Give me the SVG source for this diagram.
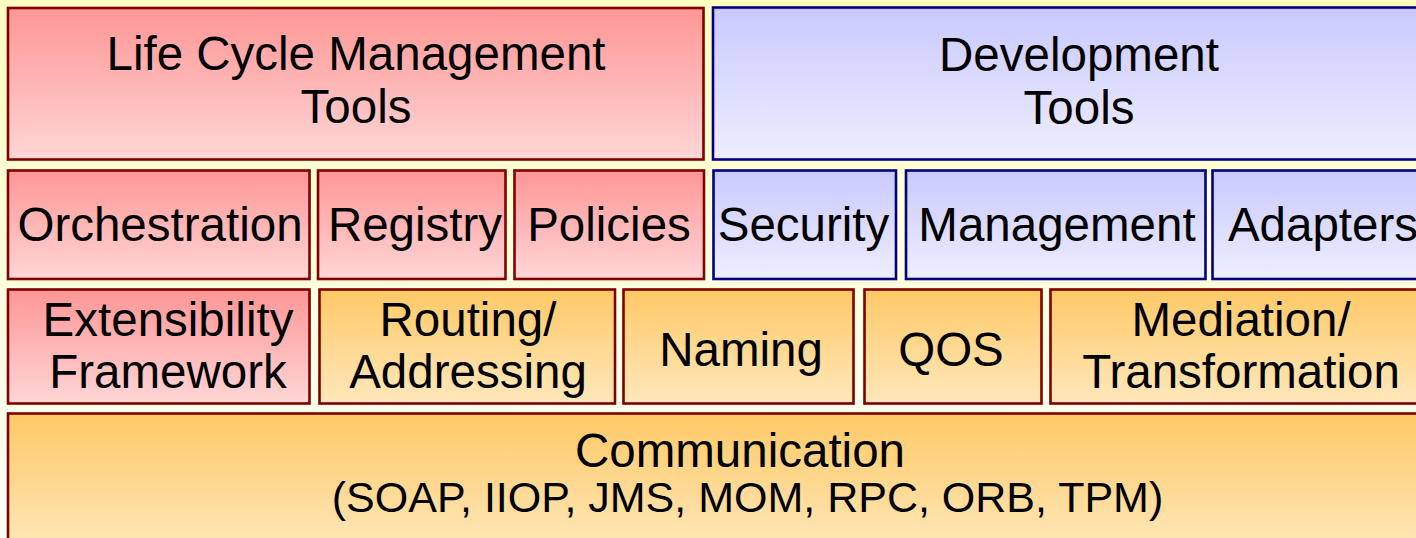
<svg xmlns="http://www.w3.org/2000/svg" width="1416" height="538" viewBox="0 0 1416 538">
<defs>
<linearGradient id="bg" x1="0" y1="0" x2="0" y2="1"><stop offset="0" stop-color="#FFFFC0"/><stop offset="1" stop-color="#FFFFFA"/></linearGradient>
<linearGradient id="red" x1="0" y1="0" x2="0" y2="1"><stop offset="0" stop-color="#FF9696"/><stop offset="1" stop-color="#FFD6D6"/></linearGradient>
<linearGradient id="blue" x1="0" y1="0" x2="0" y2="1"><stop offset="0" stop-color="#C9C9FF"/><stop offset="1" stop-color="#EEEEFF"/></linearGradient>
<linearGradient id="orange" x1="0" y1="0" x2="0" y2="1"><stop offset="0" stop-color="#FFC966"/><stop offset="1" stop-color="#FFE8BC"/></linearGradient>
</defs>
<style>
.r{fill:url(#red);stroke:#800000;stroke-width:2.6}
.b{fill:url(#blue);stroke:#000080;stroke-width:2.6}
.o{fill:url(#orange);stroke:#800000;stroke-width:2.6}
text{font-family:"Liberation Sans",Arial,sans-serif;font-size:47.5px;fill:#000;text-anchor:middle}
.s{font-size:43px}
</style>
<rect x="0" y="0" width="1416" height="538" fill="url(#bg)"/>
<g id="lcm"><rect class="r" x="8" y="8" width="695.5" height="151.5"/><text x="356" y="70">Life Cycle Management</text><text x="356" y="122.7">Tools</text></g>
<g id="dev"><rect class="b" x="713" y="7.5" width="740" height="152"/><text x="1079" y="71">Development</text><text x="1079" y="123.5">Tools</text></g>
<g id="orch"><rect class="r" x="8" y="170.5" width="301.5" height="108.5"/><text x="160" y="241">Orchestration</text></g>
<g id="registry"><rect class="r" x="318" y="170.5" width="187.5" height="108.5"/><text x="415" y="241">Registry</text></g>
<g id="policies"><rect class="r" x="514.5" y="170.5" width="189.5" height="108.5"/><text x="609" y="241">Policies</text></g>
<g id="security"><rect class="b" x="713.5" y="170.5" width="182.5" height="108.5"/><text x="803.5" y="241">Security</text></g>
<g id="management"><rect class="b" x="906" y="170.5" width="299.5" height="108.5"/><text x="1057" y="241">Management</text></g>
<g id="adapters"><rect class="b" x="1212.5" y="170.5" width="230" height="108.5"/><text x="1323" y="241">Adapters</text></g>
<g id="ext"><rect class="r" x="8" y="289.5" width="301.5" height="114"/><text x="168" y="335.5">Extensibility</text><text x="168" y="388.3">Framework</text></g>
<g id="routing"><rect class="o" x="319.5" y="289.5" width="295.5" height="114"/><text x="468" y="335.5">Routing/</text><text x="468" y="388.3">Addressing</text></g>
<g id="naming"><rect class="o" x="623.5" y="289.5" width="230" height="114"/><text x="741" y="366">Naming</text></g>
<g id="qos"><rect class="o" x="864.5" y="289.5" width="177" height="114"/><text x="951" y="366">QOS</text></g>
<g id="mediation"><rect class="o" x="1050.5" y="289.5" width="390" height="114"/><text x="1241" y="335.5">Mediation/</text><text x="1241" y="388.3">Transformation</text></g>
<g id="comm"><rect class="o" x="8" y="413.5" width="1480" height="140"/><text x="740" y="466.5">Communication</text><text class="s" x="747.5" y="511.7">(SOAP, IIOP, JMS, MOM, RPC, ORB, TPM)</text></g>
<g id="connectors"/>
</svg>
